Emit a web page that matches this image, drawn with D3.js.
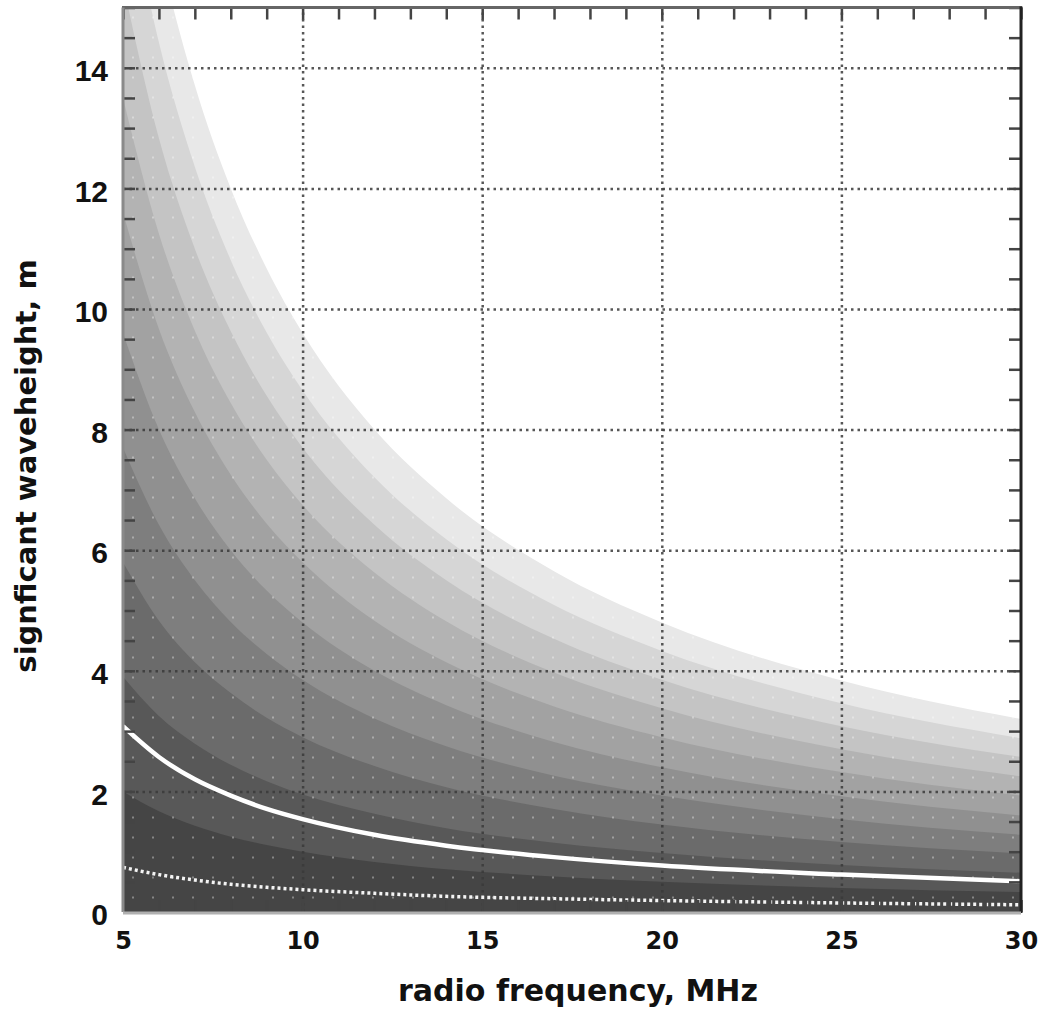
<!DOCTYPE html>
<html>
<head>
<meta charset="utf-8">
<script src="https://cdn.jsdelivr.net/npm/d3@7"></script>
<style>
  body { margin: 0; background: #fff; }
  svg { display: block; }
  .tick-label { font-family: "Liberation Sans", Arial, sans-serif; font-weight: bold; fill: #111; }
  .title { font-family: "DejaVu Sans", sans-serif; font-weight: bold; fill: #111; }
</style>
</head>
<body>
<svg id="chart" width="1041" height="1013"></svg>
<script>
// radio frequency (MHz) at which the curves were read
const freqs = [5, 6, 7, 8, 9, 10, 12, 14, 17, 20, 25, 30];

// upper edges of the grey bands (significant waveheight, m), lightest band first
const bandEdges = [
    [19.2, 16.0, 13.71, 12.0, 10.67, 9.6, 8.0, 6.86, 5.65, 4.8, 3.84, 3.2],
    [17.3, 14.42, 12.36, 10.81, 9.61, 8.65, 7.21, 6.18, 5.09, 4.33, 3.46, 2.88],
    [15.4, 12.83, 11.0, 9.63, 8.56, 7.7, 6.42, 5.5, 4.53, 3.85, 3.08, 2.57],
    [13.5, 11.25, 9.64, 8.44, 7.5, 6.75, 5.63, 4.82, 3.97, 3.38, 2.7, 2.25],
    [11.6, 9.67, 8.29, 7.25, 6.44, 5.8, 4.83, 4.14, 3.41, 2.9, 2.32, 1.93],
    [9.6, 8.0, 6.86, 6.0, 5.33, 4.8, 4.0, 3.43, 2.82, 2.4, 1.92, 1.6],
    [7.7, 6.42, 5.5, 4.81, 4.28, 3.85, 3.21, 2.75, 2.26, 1.93, 1.54, 1.28],
    [5.8, 4.83, 4.14, 3.63, 3.22, 2.9, 2.42, 2.07, 1.71, 1.45, 1.16, 0.97],
    [3.9, 3.25, 2.79, 2.44, 2.17, 1.95, 1.63, 1.39, 1.15, 0.98, 0.78, 0.65],
    [2.0, 1.67, 1.43, 1.25, 1.11, 1.0, 0.83, 0.71, 0.59, 0.5, 0.4, 0.33]
];
const bandGreys = ["#e8e8e8", "#d6d6d6", "#c4c4c4", "#b3b3b3", "#a2a2a2",
                   "#909090", "#7e7e7e", "#6b6b6b", "#585858", "#454545"];

// white solid curve and white dotted curve
const solidCurve = [3.08, 2.57, 2.2, 1.93, 1.71, 1.54, 1.28, 1.1, 0.91, 0.77, 0.62, 0.51];
const dottedCurve = [0.74, 0.62, 0.53, 0.46, 0.41, 0.37, 0.31, 0.26, 0.22, 0.19, 0.15, 0.12];

const xTicks = [5, 10, 15, 20, 25, 30];
const yTicks = [0, 2, 4, 6, 8, 10, 12, 14];
const xMinor = d3.range(5, 31, 1);
const yMinor = d3.range(0, 15.01, 0.5);

const svg = d3.select('#chart');
const margin = { top: 7.5, right: 20, bottom: 101, left: 123 };
const width = 1041 - margin.left - margin.right;
const height = 1013 - margin.top - margin.bottom;

const x = d3.scaleLinear().domain([5, 30]).range([0, width]);
const y = d3.scaleLinear().domain([0, 15]).range([height, 0]);

const chart = svg.append('g')
    .attr('transform', `translate(${margin.left}, ${margin.top})`);

const defs = svg.append('defs');
defs.append('clipPath').attr('id', 'plot-clip')
    .append('rect').attr('width', width).attr('height', height);

// faint halftone dots seen in the shaded bands
const pat = defs.append('pattern').attr('id', 'dots')
    .attr('patternUnits', 'userSpaceOnUse').attr('width', 20).attr('height', 20);
pat.append('rect').attr('x', 9).attr('y', 9).attr('width', 2).attr('height', 2)
    .attr('fill', '#fff').attr('opacity', 0.35);

const plot = chart.append('g').attr('clip-path', 'url(#plot-clip)');

plot.append('rect').attr('width', width).attr('height', height).attr('fill', '#fff');

const area = d3.area()
    .x((d, i) => x(freqs[i]))
    .y0(y(0))
    .y1(d => y(d))
    .curve(d3.curveMonotoneX);

plot.selectAll('.band')
    .data(bandEdges)
    .enter()
    .append('path')
    .attr('class', 'band')
    .attr('d', area)
    .attr('fill', (d, i) => bandGreys[i]);

plot.append('path')
    .attr('d', area(bandEdges[0]))
    .attr('fill', 'url(#dots)');

// dotted grid at the major ticks
const grid = plot.append('g');
grid.append('g')
    .attr('transform', `translate(0, ${height})`)
    .call(d3.axisBottom(x).tickValues(xTicks.slice(1, -1)).tickSize(-height).tickFormat(''));
grid.append('g')
    .call(d3.axisLeft(y).tickValues(yTicks.slice(1)).tickSize(-width).tickFormat(''));
grid.selectAll('.domain').remove();
grid.selectAll('line')
    .attr('stroke', '#3a3a3a')
    .attr('stroke-width', 2.5)
    .attr('stroke-dasharray', '2.5,4')
    .attr('opacity', 0.85);

const line = d3.line()
    .x((d, i) => x(freqs[i]))
    .y(d => y(d))
    .curve(d3.curveMonotoneX);

plot.append('path')
    .attr('d', line(solidCurve))
    .attr('fill', 'none')
    .attr('stroke', '#fff')
    .attr('stroke-width', 4.5);

plot.append('path')
    .attr('d', line(dottedCurve))
    .attr('fill', 'none')
    .attr('stroke', '#f4f4f4')
    .attr('stroke-width', 3.5)
    .attr('stroke-dasharray', '3,3');

// inward ticks on all four sides
const tickStyle = g => {
    g.select('.domain').remove();
    g.selectAll('line').attr('stroke', '#444').attr('stroke-width', 2.5);
};
chart.append('g')
    .attr('transform', `translate(0, ${height})`)
    .call(d3.axisBottom(x).tickValues(xMinor).tickSize(-12).tickFormat(''))
    .call(tickStyle);
chart.append('g')
    .call(d3.axisTop(x).tickValues(xMinor).tickSize(-12).tickFormat(''))
    .call(tickStyle);
chart.append('g')
    .call(d3.axisLeft(y).tickValues(yMinor).tickSize(-12).tickFormat(''))
    .call(tickStyle);
chart.append('g')
    .attr('transform', `translate(${width}, 0)`)
    .call(d3.axisRight(y).tickValues(yMinor).tickSize(-12).tickFormat(''))
    .call(tickStyle);

// frame
chart.append('line').attr('x1', -1).attr('x2', width + 1).attr('y1', 0).attr('y2', 0)
    .attr('stroke', '#666').attr('stroke-width', 3);
chart.append('line').attr('x1', 0).attr('x2', 0).attr('y1', 0).attr('y2', height)
    .attr('stroke', '#8a8a8a').attr('stroke-width', 3);
chart.append('line').attr('x1', width).attr('x2', width).attr('y1', -1).attr('y2', height + 1)
    .attr('stroke', '#222').attr('stroke-width', 3);
chart.append('line').attr('x1', 0).attr('x2', width).attr('y1', height + 1).attr('y2', height + 1)
    .attr('stroke', '#b0b0b0').attr('stroke-width', 3);

// tick labels
const xLab = chart.append('g')
    .attr('transform', `translate(0, ${height})`)
    .call(d3.axisBottom(x).tickValues(xTicks).tickSize(0).tickPadding(20));
xLab.select('.domain').remove();
xLab.selectAll('text')
    .attr('class', 'title')
    .style('font-size', '24px');

const yLab = chart.append('g')
    .call(d3.axisLeft(y).tickValues(yTicks).tickSize(0).tickPadding(15));
yLab.select('.domain').remove();
yLab.selectAll('text')
    .attr('class', 'tick-label')
    .attr('dy', '0.42em')
    .style('font-size', '30px');

svg.append('text')
    .attr('class', 'title')
    .attr('x', 578)
    .attr('y', 1001)
    .attr('text-anchor', 'middle')
    .style('font-size', '30px')
    .text('radio frequency, MHz');

svg.append('text')
    .attr('class', 'title')
    .attr('transform', 'translate(36, 466) rotate(-90)')
    .attr('text-anchor', 'middle')
    .style('font-size', '29px')
    .text('signficant waveheight, m');
</script>
</body>
</html>
